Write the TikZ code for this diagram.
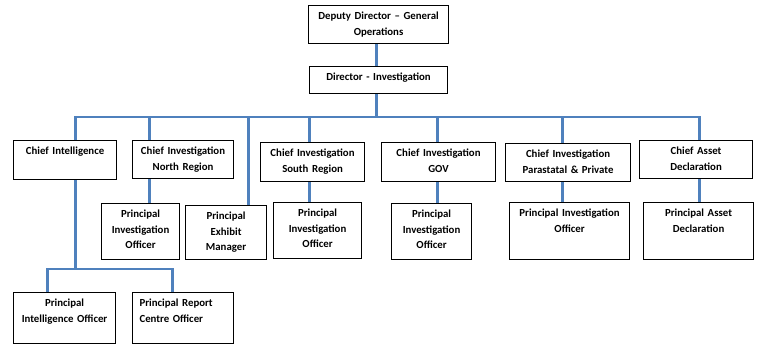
\documentclass[tikz,border=0pt]{standalone}
\usepackage{fontspec}
\setmainfont{Carlito}
\usepackage{xcolor}
\usepackage{tikz}
\definecolor{linkblue}{HTML}{4F81BD}

\begin{document}
\begin{tikzpicture}[x=1pt,y=-1pt,
  every node/.style={font=\bfseries\fontsize{10.8}{15.7}\selectfont},
  box/.style 2 args={draw,line width=1.1pt,fill=white,anchor=north west,
                     inner xsep=3pt,inner ysep=0pt,align=center,
                     text width=#1pt-6pt,text height=14pt,text depth=#2pt-14pt},
  link/.style={draw=linkblue,line width=2.5pt}]
\useasboundingbox (0,0) rectangle (766,354);
% top of the chart
\node[box={140}{38}] (dep) at (308,5) {Deputy Director -- General\\Operations};
\node[box={138}{27}] (dir) at (309,66) {Director - Investigation};
% chiefs
\node[box={103}{39}] (ci) at (13,140) {Chief Intelligence};
\node[box={101}{38}] (cn) at (132,140) {Chief Investigation\\North Region};
\node[box={104}{39}] (cs) at (260,142) {Chief Investigation\\South Region};
\node[box={114}{39}] (cg) at (381,142) {Chief Investigation\\GOV};
\node[box={125}{38}] (cp) at (505,143) {Chief Investigation\\Parastatal \& Private};
\node[box={113}{38}] (ca) at (639,140) {Chief Asset\\Declaration};
% principals
\node[box={78}{56}] (pn) at (101,203) {Principal\\Investigation\\Officer};
\node[box={81}{54}] (pe) at (185,205) {Principal\\Exhibit\\Manager};
\node[box={88}{56}] (ps) at (273,202) {Principal\\Investigation\\Officer};
\node[box={80}{56}] (pg) at (391,203) {Principal\\Investigation\\Officer};
\node[box={120}{57}] (pp) at (509,202) {Principal Investigation\\Officer};
\node[box={110}{57}] (pa) at (643,202) {Principal Asset\\Declaration};
\node[box={102}{51}] (pi) at (13,292) {Principal\\Intelligence Officer};
\node[box={101}{51},align=left,inner xsep=7pt,text width=87pt] (pr) at (132,292)
    {Principal Report\\Centre Officer};
% connectors
\draw[link] ([xshift=-2pt]dep.south) -- ([xshift=-2pt]dir.north);
\draw[link] ([xshift=-2pt]dir.south) -- ++(0,23) coordinate (bus);
\draw[link] ([xshift=10.5pt]ci.north) |- (bus) -| ([xshift=3.5pt]ca.north);
\draw[link] ([xshift=-33.5pt]cn.north) -- ([xshift=-33.5pt]cn.north |- bus);
\draw[link] ([xshift=22.5pt]pe.north) -- ([xshift=22.5pt]pe.north |- bus);
\draw[link] ([xshift=-3pt]cs.north) -- ([xshift=-3pt]cs.north |- bus);
\draw[link] ([xshift=-1pt]cg.north) -- ([xshift=-1pt]cg.north |- bus);
\draw[link] ([xshift=-5.5pt]cp.north) -- ([xshift=-5.5pt]cp.north |- bus);
\draw[link] ([xshift=-33.5pt]cn.south) -- ([xshift=-33.5pt]cn.south |- pn.north);
\draw[link] ([xshift=-3pt]cs.south) -- ([xshift=-3pt]cs.south |- ps.north);
\draw[link] ([xshift=-1pt]cg.south) -- ([xshift=-1pt]cg.south |- pg.north);
\draw[link] ([xshift=-5.5pt]cp.south) -- ([xshift=-5.5pt]cp.south |- pp.north);
\draw[link] ([xshift=3.5pt]ca.south) -- ([xshift=3.5pt]ca.south |- pa.north);
\draw[link] ([xshift=10.5pt]ci.south) -- ++(0,89) coordinate (ibus);
\draw[link] ([xshift=-17pt]pi.north) |- (ibus) -| ([xshift=-10.5pt]pr.north);
\end{tikzpicture}
\end{document}
